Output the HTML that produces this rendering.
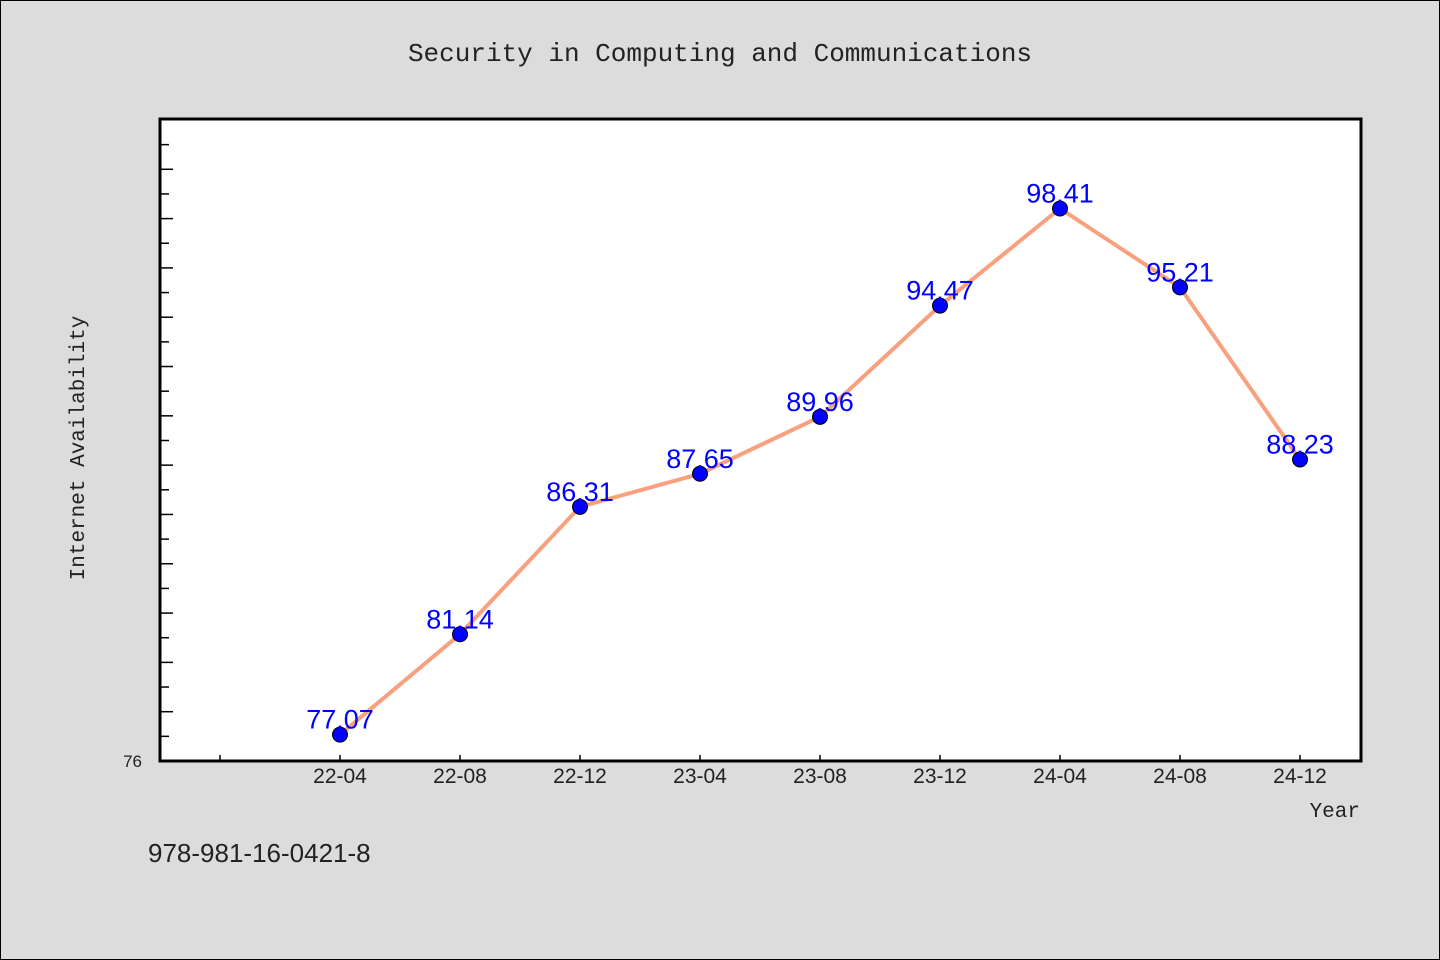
<!DOCTYPE html>
<html><head><meta charset="utf-8"><style>
html,body{margin:0;padding:0;background:#dcdcdc;}
svg{display:block;}
</style></head><body>
<svg width="1440" height="960" xmlns="http://www.w3.org/2000/svg">
<rect x="0.5" y="0.5" width="1439" height="959" fill="#dcdcdc" stroke="#000"/>
<text x="720" y="61" text-anchor="middle" font-family="Liberation Mono, monospace" font-size="26" fill="#222">Security in Computing and Communications</text>
<rect x="160" y="119" width="1201" height="642" fill="#fff"/>
<g id="yticks"></g>
<g id="xticks"></g>
<polyline id="line" fill="none" stroke="#f9a07f" stroke-width="4" stroke-linejoin="round"/>
<g id="points"></g>
<rect x="160" y="119" width="1201" height="642" fill="none" stroke="#000" stroke-width="3"/>
<text x="142" y="767" text-anchor="end" font-family="Liberation Sans, sans-serif" font-size="17" fill="#222">76</text>
<text transform="translate(84,448) rotate(-90)" text-anchor="middle" font-family="Liberation Mono, monospace" font-size="21" fill="#222">Internet Availability</text>
<text x="1360" y="817" text-anchor="end" font-family="Liberation Mono, monospace" font-size="21" fill="#222">Year</text>
<text x="148" y="862" font-family="Liberation Sans, sans-serif" font-size="26" fill="#222">978-981-16-0421-8</text>
</svg>
<script>
const categories=["22-04","22-08","22-12","23-04","23-08","23-12","24-04","24-08","24-12"];
const values=[77.07,81.14,86.31,87.65,89.96,94.47,98.41,95.21,88.23];
const yMin=76, yMax=102.04;
const NS="http://www.w3.org/2000/svg";
const L=160,T=119,W=1201,H=642;
function xs(i){return L+60+(i+1)*120;}
function ys(v){return T+H-(v-yMin)/(yMax-yMin)*H;}
function mk(t,a,p){const e=document.createElementNS(NS,t);for(const k in a)e.setAttribute(k,a[k]);p.appendChild(e);return e;}
const yt=document.getElementById('yticks');
for(let v=77;v<=101;v++){
  const y=ys(v);const len=(v%2===0)?13:9;
  const e=mk('line',{x1:L,x2:L+len,y1:y,y2:y,stroke:'#000','stroke-width':1.5},yt);
  
  
}
const xt=document.getElementById('xticks');
for(let i=-1;i<categories.length;i++){
  const x=xs(i);
  const e=mk('line',{x1:x,x2:x,y1:T+H,y2:T+H-6,stroke:'#000','stroke-width':1.5},xt);
  
  
  if(i>=0){
    const t=mk('text',{x:x,y:783,'text-anchor':'middle','font-family':'Liberation Sans, sans-serif','font-size':21,fill:'#222'},xt);
    t.textContent=categories[i];
    
    
  }
}
document.getElementById('line').setAttribute('points',values.map((v,i)=>xs(i)+','+ys(v)).join(' '));
const pts=document.getElementById('points');
values.forEach((v,i)=>{
  const c=mk('circle',{cx:xs(i),cy:ys(v),r:7.5,fill:'#0000ff',stroke:'#000','stroke-width':1},pts);
  
  
  const t=mk('text',{x:xs(i),y:ys(v)-6,'text-anchor':'middle','font-family':'Liberation Sans, sans-serif','font-size':27,fill:'#0000ff'},pts);
  t.textContent=v.toFixed(2);
  
  
});
</script>
</body></html>
